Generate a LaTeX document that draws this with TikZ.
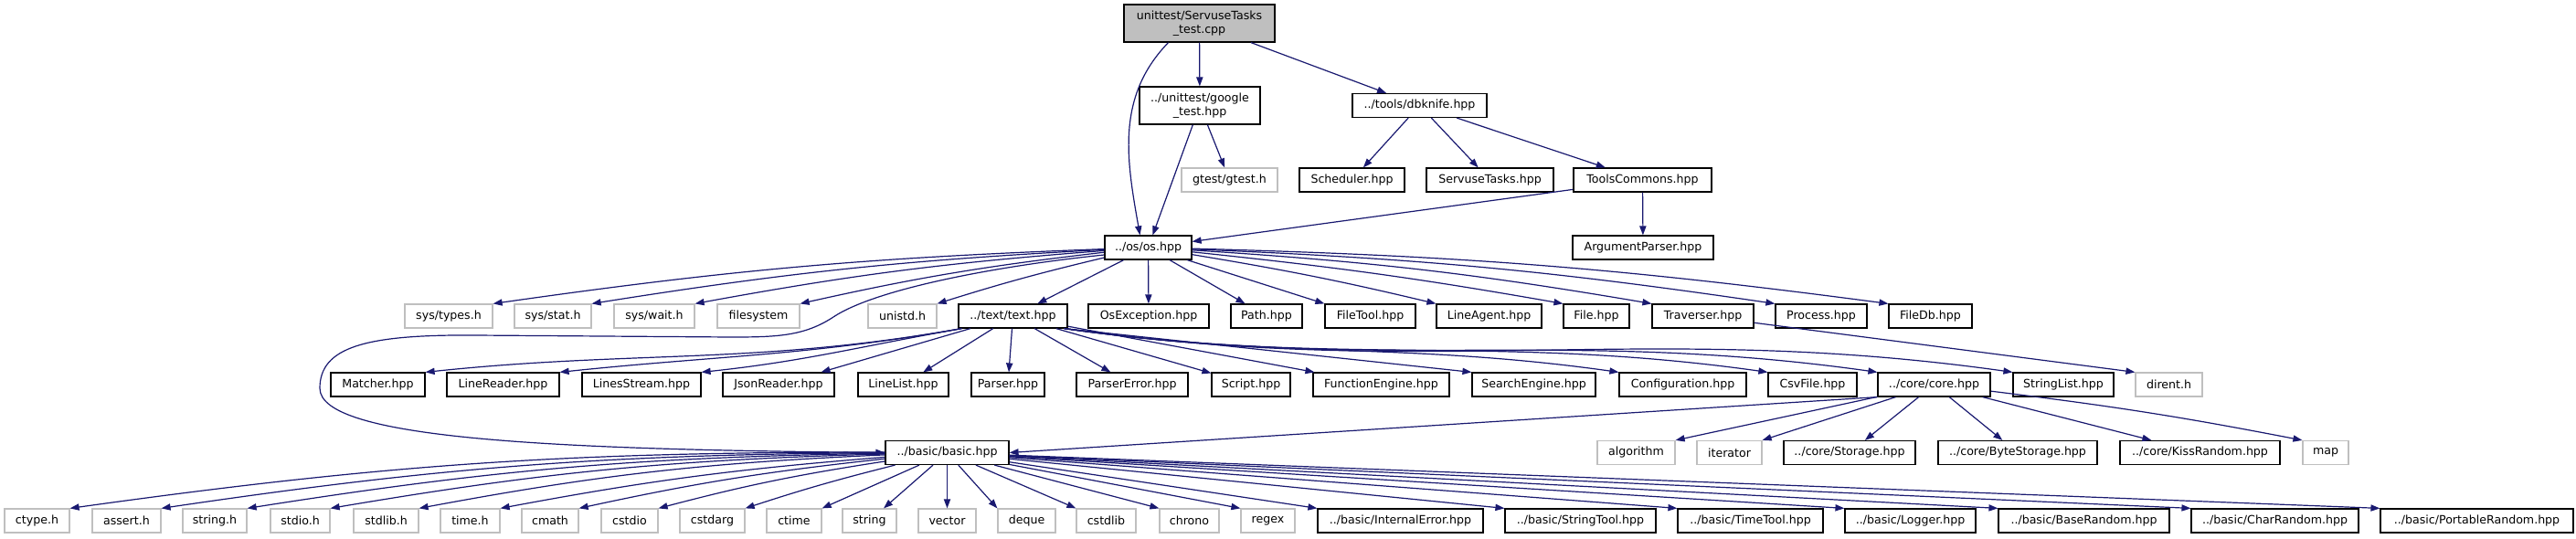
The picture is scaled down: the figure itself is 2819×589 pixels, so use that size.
\documentclass[tikz,border=0pt]{standalone}
\usepackage{fontspec}
\setmainfont{DejaVu Sans}
\usetikzlibrary{arrows.meta}
\definecolor{edgeblue}{HTML}{191970}
\definecolor{sysgrey}{HTML}{BFBFBF}

\begin{document}
\begin{tikzpicture}[x=0.5pt, y=0.5pt,
    hdr/.style={draw=black, line width=0.6pt, inner sep=0pt, minimum height=13pt,
        font=\fontsize{6.3}{7.6}\selectfont},
    edge/.style={edgeblue, line width=0.6pt, -{Triangle[length=5pt, width=3.6pt]}}]
    \fill[white] (0,0) rectangle (2819,-589);
    \useasboundingbox (0,0) rectangle (2819,-589);

    \node[hdr, fill=sysgrey, align=center, minimum width=82.5pt, minimum height=20.5pt] (root) at (1312.5,-25.5) {unittest/ServuseTasks\\\_test.cpp};
    \node[hdr, align=center, minimum width=66pt, minimum height=20.5pt] (google) at (1313,-115.5) {../unittest/google\\\_test.hpp};
    \node[hdr, minimum width=73.5pt] (dbknife) at (1553.5,-115.5) {../tools/dbknife.hpp};

    \foreach \n/\bc/\xa/\xb/\lbl in {gtest/sysgrey/1293/1398/{gtest/gtest.h}, scheduler/black/1422/1537/{Scheduler.hpp},
        servusetasks/black/1561/1700/{ServuseTasks.hpp}, toolscommons/black/1722/1873/{ToolsCommons.hpp}}
        \node[hdr, draw=\bc, minimum width={(\xb-\xa)*0.5pt}] (\n) at ({(\xa+\xb)/2},-197) {\lbl};

    \foreach \n/\bc/\xa/\xb/\lbl in {os/black/1209/1304/{../os/os.hpp}, argumentparser/black/1721/1875/{ArgumentParser.hpp}}
        \node[hdr, draw=\bc, minimum width={(\xb-\xa)*0.5pt}] (\n) at ({(\xa+\xb)/2},-271) {\lbl};

    \foreach \n/\bc/\xa/\xb/\lbl in {systypes/sysgrey/443/539/{sys/types.h}, sysstat/sysgrey/563/647/{sys/stat.h},
        syswait/sysgrey/672/760/{sys/wait.h}, filesystem/sysgrey/785/875/{filesystem}, unistd/sysgrey/950/1025/{unistd.h},
        text/black/1049/1168/{../text/text.hpp}, osexception/black/1191/1323/{OsException.hpp}, path/black/1347/1425/{Path.hpp},
        filetool/black/1450/1549/{FileTool.hpp}, lineagent/black/1572/1687/{LineAgent.hpp}, file/black/1711/1783/{File.hpp},
        traverser/black/1808/1919/{Traverser.hpp}, process/black/1943/2043/{Process.hpp}, filedb/black/2067/2158/{FileDb.hpp}}
        \node[hdr, draw=\bc, minimum width={(\xb-\xa)*0.5pt}] (\n) at ({(\xa+\xb)/2},-346) {\lbl};

    \foreach \n/\bc/\xa/\xb/\lbl in {matcher/black/362/465/{Matcher.hpp}, linereader/black/489/612/{LineReader.hpp},
        linesstream/black/637/767/{LinesStream.hpp}, jsonreader/black/791/913/{JsonReader.hpp}, linelist/black/939/1038/{LineList.hpp},
        parser/black/1063/1143/{Parser.hpp}, parsererror/black/1178/1300/{ParserError.hpp}, script/black/1326/1412/{Script.hpp},
        functionengine/black/1437/1586/{FunctionEngine.hpp}, searchengine/black/1611/1746/{SearchEngine.hpp},
        configuration/black/1772/1911/{Configuration.hpp}, csvfile/black/1935/2032/{CsvFile.hpp}, core/black/2055/2178/{../core/core.hpp},
        stringlist/black/2203/2313/{StringList.hpp}, dirent/sysgrey/2337/2410/{dirent.h}}
        \node[hdr, draw=\bc, minimum width={(\xb-\xa)*0.5pt}] (\n) at ({(\xa+\xb)/2},-421) {\lbl};

    \foreach \n/\bc/\xa/\xb/\lbl in {basic/black/969/1104/{../basic/basic.hpp}, algorithm/sysgrey/1748/1833/{algorithm},
        iterator/sysgrey/1857/1928/{iterator}, storage/black/1952/2096/{../core/Storage.hpp}, bytestorage/black/2121/2295/{../core/ByteStorage.hpp},
        kissrandom/black/2320/2495/{../core/KissRandom.hpp}, map/sysgrey/2520/2570/{map}}
        \node[hdr, draw=\bc, minimum width={(\xb-\xa)*0.5pt}] (\n) at ({(\xa+\xb)/2},-495.5) {\lbl};

    \foreach \n/\bc/\xa/\xb/\lbl in {ctype/sysgrey/5/76/{ctype.h}, assert/sysgrey/101/176/{assert.h}, stringh/sysgrey/200/270/{string.h},
        stdio/sysgrey/296/361/{stdio.h}, stdlib/sysgrey/387/458/{stdlib.h}, timeh/sysgrey/482/547/{time.h}, cmath/sysgrey/571/633/{cmath},
        cstdio/sysgrey/658/720/{cstdio}, cstdarg/sysgrey/744/815/{cstdarg}, ctime/sysgrey/839/899/{ctime}, string/sysgrey/922/981/{string},
        vector/sysgrey/1005/1068/{vector}, deque/sysgrey/1092/1155/{deque}, cstdlib/sysgrey/1178/1243/{cstdlib}, chrono/sysgrey/1269/1334/{chrono},
        regex/sysgrey/1358/1417/{regex}, internalerror/black/1442/1623/{../basic/InternalError.hpp},
        stringtool/black/1647/1812/{../basic/StringTool.hpp}, timetool/black/1836/1995/{../basic/TimeTool.hpp},
        logger/black/2019/2162/{../basic/Logger.hpp}, baserandom/black/2187/2374/{../basic/BaseRandom.hpp},
        charrandom/black/2398/2581/{../basic/CharRandom.hpp}, portablerandom/black/2605/2816/{../basic/PortableRandom.hpp}}
        \node[hdr, draw=\bc, minimum width={(\xb-\xa)*0.5pt}] (\n) at ({(\xa+\xb)/2},-570) {\lbl};

    \draw[edge] (root) -- (google);
    \draw[edge] (root) -- (dbknife);
    \draw[edge] ([xshift=-17pt]root.south) to[out=226, in=100] ([xshift=-4.5pt]os.north);
    \draw[edge] (google) -- (os);
    \draw[edge] (google) -- (gtest);
    \foreach \t in {scheduler, servusetasks, toolscommons}
        \draw[edge] (dbknife) -- (\t);
    \draw[edge] (toolscommons) -- (os);
    \draw[edge] (toolscommons) -- (argumentparser);

    \foreach \t/\bd in {systypes/-3, sysstat/-3, syswait/-3, filesystem/-3, unistd/-2}
        \draw[edge] (os) to[bend left=\bd] (\t.north east);
    \foreach \t in {text, osexception, path}
        \draw[edge] (os) -- (\t);
    \foreach \t/\bd in {filetool/0, lineagent/2, file/2, traverser/3, process/3, filedb/3}
        \draw[edge] (os) to[bend left=\bd] (\t.north west);
    \draw[edge] ([yshift=-4pt]os.west) .. controls (1100,-290) and (960,-315) .. (912,-347)
        .. controls (880,-368) and (850,-369) .. (800,-369) -- (520,-367)
        .. controls (400,-366) and (350,-380) .. (350,-425)
        .. controls (350,-480) and (600,-492) .. (basic.west);
    \draw[edge] (traverser) -- (dirent.north west);

    \foreach \t in {matcher, linereader, linesstream}
        \draw[edge] ([xshift=2pt]text.south west) to[out=190, in=6] (\t.north east);
    \foreach \t in {jsonreader, linelist, parser, parsererror, script, functionengine}
        \draw[edge] (text) -- (\t);
    \draw[edge] ([xshift=-2pt]text.south east) -- (searchengine.north west);
    \foreach \t in {configuration, csvfile, core, stringlist}
        \draw[edge] ([xshift=-2pt]text.south east) to[out=-8, in=172] (\t.north west);

    \draw[edge] (core.south west) -- (basic.east);
    \foreach \t in {algorithm, iterator}
        \draw[edge] (core) -- (\t.north east);
    \foreach \t in {storage, bytestorage, kissrandom}
        \draw[edge] (core) -- (\t);
    \draw[edge] (core) to[bend left=2] (map.north west);

    \foreach \t/\bd in {ctype/-4, assert/-4, stringh/-4, stdio/-4, stdlib/-4, timeh/-3, cmath/-3, cstdio/-3, cstdarg/-2, ctime/0}
        \draw[edge] (basic) to[bend left=\bd] (\t.north east);
    \foreach \t in {string, vector}
        \draw[edge] (basic) -- (\t);
    \foreach \t in {deque, cstdlib, chrono, regex, internalerror, stringtool, timetool, logger, baserandom, charrandom, portablerandom}
        \draw[edge] (basic) -- (\t.north west);
\end{tikzpicture}
\end{document}
